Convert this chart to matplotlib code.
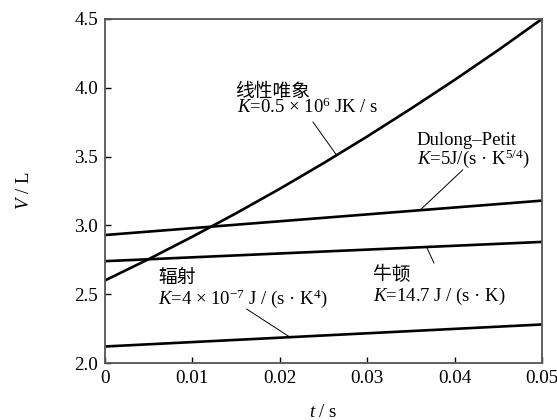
import numpy as np
import matplotlib
matplotlib.use("Agg")
import matplotlib.pyplot as plt

plt.rcParams['font.family'] = ['Liberation Serif', 'Noto Sans CJK SC', 'DejaVu Sans']
plt.rcParams['mathtext.fontset'] = 'custom'
plt.rcParams['mathtext.rm'] = 'Liberation Serif'
plt.rcParams['mathtext.it'] = 'Liberation Serif:italic'
plt.rcParams['mathtext.bf'] = 'Liberation Serif:bold'

# time samples (s) and volume (L) for each heat-transfer model
t_linear = [0.0, 0.005, 0.01, 0.015, 0.02, 0.025, 0.03, 0.035, 0.04, 0.045, 0.05]
v_linear = [2.600, 2.755, 2.918, 3.088, 3.266, 3.452, 3.646, 3.848, 4.057, 4.274, 4.500]

t_line = [0.0, 0.05]
v_dulong = [2.93, 3.18]
v_newton = [2.74, 2.88]
v_radiation = [2.12, 2.28]

x_ticks = [0, 0.01, 0.02, 0.03, 0.04, 0.05]
x_tick_labels = ['0', '0.01', '0.02', '0.03', '0.04', '0.05']
y_ticks = [2.0, 2.5, 3.0, 3.5, 4.0, 4.5]
y_tick_labels = ['2.0', '2.5', '3.0', '3.5', '4.0', '4.5']

fig = plt.figure(figsize=(5.57, 4.2), dpi=100)
ax = fig.add_axes([0.1885, 0.1357, 0.7845, 0.8191])

lw = 1.9
ax.plot(t_linear, v_linear, color='black', lw=lw)
ax.plot(t_line, v_dulong, color='black', lw=lw)
ax.plot(t_line, v_newton, color='black', lw=lw)
ax.plot(t_line, v_radiation, color='black', lw=lw)

ax.set_xlim(0, 0.05)
ax.set_ylim(2.0, 4.5)
ax.set_xticks(x_ticks)
ax.set_xticklabels(x_tick_labels)
ax.set_yticks(y_ticks)
ax.set_yticklabels(y_tick_labels)
ax.tick_params(direction='in', length=4, width=1, labelsize=13.8, colors='black', pad=5)
for s in ax.spines.values():
    s.set_color('#555555')
    s.set_linewidth(1.3)

ax.set_xlabel('$t$ / s', fontsize=13.5, labelpad=12)
ax.set_ylabel('$V$ / L', fontsize=13.5, labelpad=30)

fs = 13.5
cjk = ['Noto Sans CJK SC', 'DejaVu Sans']


def pointer(x0, y0, x1, y1):
    ax.plot([x0, x1], [y0, y1], color='black', lw=0.7)


# linear phenomenological model
ax.text(0.01487, 3.975, '线性唯象', family=cjk, fontsize=fs, va='center', ha='left')
ax.text(0.0151, 3.855, '$K$=0.5 × 10$^{6}$ JK / s', fontsize=fs, va='center', ha='left')
pointer(0.0238, 3.751, 0.0265, float(np.interp(0.0265, t_linear, v_linear)))

# Dulong-Petit
ax.text(0.03566, 3.615, 'Dulong–Petit', fontsize=fs, va='center', ha='left')
ax.text(0.03566, 3.488, '$K$=5J/(s · K$^{5/4}$)', fontsize=fs, va='center', ha='left')
pointer(0.04093, 3.403, 0.03604, float(np.interp(0.03604, t_line, v_dulong)))

# radiation
ax.text(0.00606, 2.625, '辐射', family=cjk, fontsize=fs, va='center', ha='left')
ax.text(0.00606, 2.47, '$K$=4 × 10$^{-7}$ J / (s · K$^{4}$)', fontsize=fs, va='center', ha='left')
pointer(0.01621, 2.392, 0.02117, float(np.interp(0.02117, t_line, v_radiation)))

# Newton cooling
ax.text(0.03066, 2.645, '牛顿', family=cjk, fontsize=fs, va='center', ha='left')
ax.text(0.03066, 2.485, '$K$=14.7 J / (s · K)', fontsize=fs, va='center', ha='left')
pointer(0.0368, float(np.interp(0.0368, t_line, v_newton)), 0.03764, 2.727)

fig.savefig('out.png', dpi=100)
